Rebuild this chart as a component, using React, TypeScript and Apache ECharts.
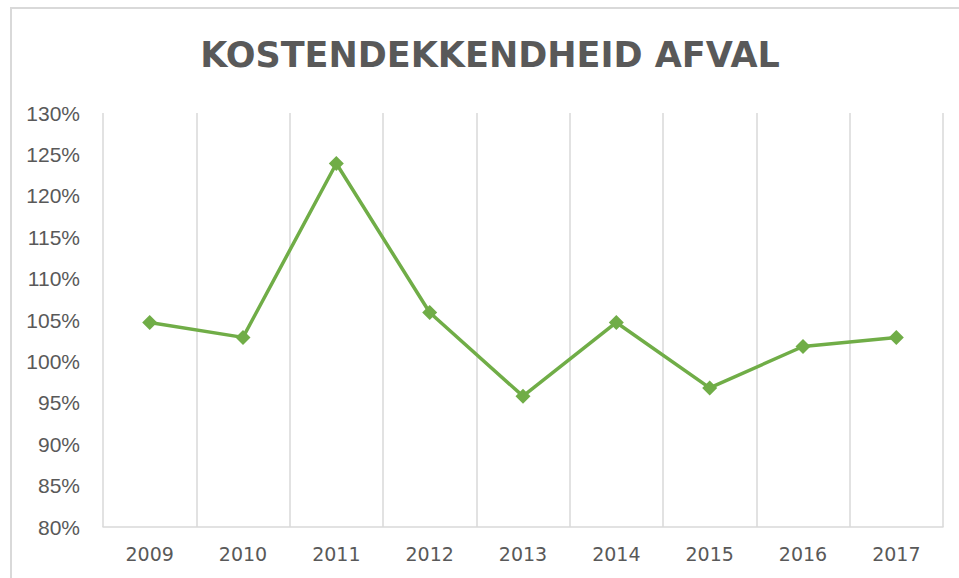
import React, { useEffect, useRef } from "react";
import * as echarts from "echarts";

const TITLE = "KOSTENDEKKENDHEID AFVAL";
const YEARS = ["2009", "2010", "2011", "2012", "2013", "2014", "2015", "2016", "2017"];
const COVERAGE_PCT = [104.7, 102.9, 123.9, 105.9, 95.8, 104.7, 96.8, 101.8, 102.9];
const Y_MIN = 80;
const Y_MAX = 130;
const Y_STEP = 5;

export default function App() {
  const ref = useRef<HTMLDivElement>(null);
  useEffect(() => {
    if (!ref.current) return;
    const chart = echarts.init(ref.current, null, { renderer: "svg" });
    chart.setOption({
      animation: false,
      backgroundColor: "#ffffff",
      graphic: [
        {
          type: "rect",
          shape: { x: 11, y: 8, width: 1000, height: 620 },
          style: { fill: "none", stroke: "#d9d9d9", lineWidth: 2 },
          silent: true,
        },
        {
          type: "text",
          x: 490,
          y: 55,
          style: {
            text: TITLE,
            fill: "#595959",
            font: "bold 35px 'DejaVu Sans'",
            textAlign: "center",
            textVerticalAlign: "middle",
          },
        },
      ],
      grid: { left: 103, right: 16, top: 113, bottom: 51, containLabel: false },
      xAxis: {
        type: "category",
        data: YEARS,
        boundaryGap: true,
        axisLine: { show: true, lineStyle: { color: "#d9d9d9", width: 1.5 } },
        axisTick: { show: false },
        splitLine: { show: true, lineStyle: { color: "#d9d9d9", width: 1.5 } },
        axisLabel: {
          color: "#595959",
          fontFamily: "DejaVu Sans",
          fontSize: 19,
          margin: 17,
        },
      },
      yAxis: {
        type: "value",
        min: Y_MIN,
        max: Y_MAX,
        interval: Y_STEP,
        axisLine: { show: false },
        axisTick: { show: false },
        splitLine: { show: false },
        axisLabel: {
          color: "#595959",
          fontFamily: "Liberation Sans",
          fontSize: 21,
          margin: 23,
          formatter: "{value}%",
        },
      },
      series: [
        {
          type: "line",
          data: COVERAGE_PCT,
          symbol: "diamond",
          symbolSize: 15,
          itemStyle: { color: "#70ad47" },
          lineStyle: { color: "#70ad47", width: 3.5 },
        },
      ],
    });
    return () => chart.dispose();
  }, []);
  return (
    <div
      ref={ref}
      style={{ position: "fixed", left: 0, top: 0, width: 959, height: 578, background: "#fff" }}
    />
  );
}
